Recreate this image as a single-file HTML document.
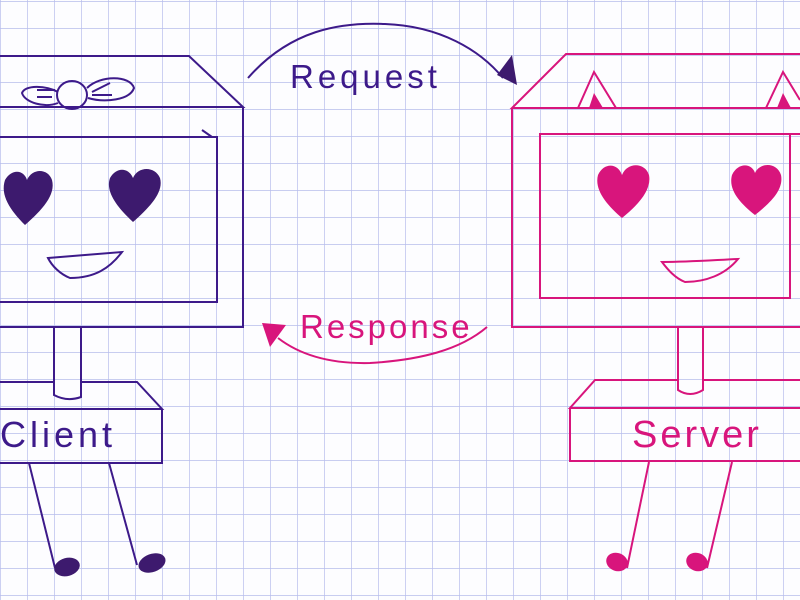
<!DOCTYPE html>
<html><head><meta charset="utf-8"><style>
html,body{margin:0;padding:0;background:#fff;}
svg{display:block}
text{font-family:"Liberation Sans",sans-serif;}
</style></head><body>
<svg width="800" height="600" viewBox="0 0 800 600" xmlns="http://www.w3.org/2000/svg">
<defs>
<pattern id="g" x="0" y="1" width="27" height="27" patternUnits="userSpaceOnUse">
<path d="M0 0H27M0 0V27" stroke="#b7bdec" stroke-width="1.4" fill="none"/>
</pattern>
</defs>
<rect width="800" height="600" fill="#fdfdff"/>
<rect width="800" height="600" fill="url(#g)"/>

<!-- CLIENT -->
<g stroke="#3d1a8a" stroke-width="2" fill="none">
<path d="M0 56H189L243 107H0"/>
<path d="M243 107V327H0"/>
<path d="M0 137H217V302H0"/>
<path d="M202 130L212 137"/>
<ellipse cx="72" cy="95" rx="15" ry="14"/>
<path d="M58 92C45 85 25 85 22 93C25 103 45 108 58 103"/>
<path d="M37 90H55M37 97H52"/>
<path d="M87 88C100 75 130 75 134 88C130 100 105 103 88 98"/>
<path d="M92 92L110 83M92 95H112"/>
<path d="M48 258C70 256 100 254 122 252C110 268 95 278 70 278C60 274 52 266 48 258Z"/>
<path d="M54 327V395Q67 402 81 397V327"/>
<path d="M82 382H137L162 409H0"/>
<path d="M0 382H54"/>
<path d="M162 409V463H0"/>
<path d="M29 463L55 568M109 463L137 565"/>
</g>
<g fill="#3d1a6e">
<path d="M25 225C10 210 0 195 5 180C12 168 24 170 27 180C32 168 48 168 52 180C56 195 42 210 25 225Z"/>
<path d="M133 222C118 208 105 192 110 178C117 166 129 168 133 178C138 166 155 166 160 178C164 192 150 207 133 222Z"/>
<ellipse cx="67" cy="567" rx="13" ry="9" transform="rotate(-15 67 567)"/>
<ellipse cx="152" cy="563" rx="14" ry="9" transform="rotate(-20 152 563)"/>
</g>
<text x="0" y="447" font-size="36" fill="#3d1a8a" letter-spacing="4">Client</text>

<!-- SERVER -->
<g stroke="#d8157c" stroke-width="2" fill="none">
<path d="M800 54H566L512 108H800"/>
<path d="M512 108V327H800"/>
<path d="M800 134H540V298H790V134"/>
<path d="M578 108L594 72L616 108"/>
<path d="M766 108L783 72L800 100"/>
<path d="M662 262C690 262 715 260 738 259C725 275 705 282 685 282C675 278 668 270 662 262Z"/>
<path d="M678 327V390Q690 398 703 390V327"/>
<path d="M703 380H800M678 380H595L570 408H800"/>
<path d="M570 408V461H800"/>
<path d="M649 462L627 568M732 462L707 568"/>
</g>
<g fill="#d8157c">
<path d="M589 108L594 93L603 108Z"/>
<path d="M777 108L783 93L791 108Z"/>
<path d="M622 218C607 205 594 190 598 175C604 162 618 163 622 175C627 162 645 162 649 175C652 190 638 205 622 218Z"/>
<path d="M755 215C740 203 728 190 732 175C738 162 752 163 755 173C760 162 777 162 781 175C784 190 770 203 755 215Z"/>
<ellipse cx="617" cy="562" rx="11" ry="9" transform="rotate(20 617 562)"/>
<ellipse cx="697" cy="562" rx="11" ry="9" transform="rotate(20 697 562)"/>
</g>
<text x="632" y="447" font-size="38" fill="#d8157c" letter-spacing="3">Server</text>

<path d="M248 78C290 30 340 22 385 24C440 26 480 50 503 78" stroke="#3d1a8a" stroke-width="2" fill="none"/>
<path d="M497 75L512 55L517 85Z" fill="#3d1a6e"/>
<text x="290" y="88" font-size="33" fill="#3d1a8a" letter-spacing="4">Request</text>

<path d="M487 327C460 350 420 360 370 363C330 364 300 355 278 338" stroke="#d8157c" stroke-width="2" fill="none"/>
<path d="M262 323L286 325L270 347Z" fill="#d8157c"/>
<text x="300" y="338" font-size="33" fill="#d8157c" letter-spacing="3">Response</text>
</svg>
</body></html>
